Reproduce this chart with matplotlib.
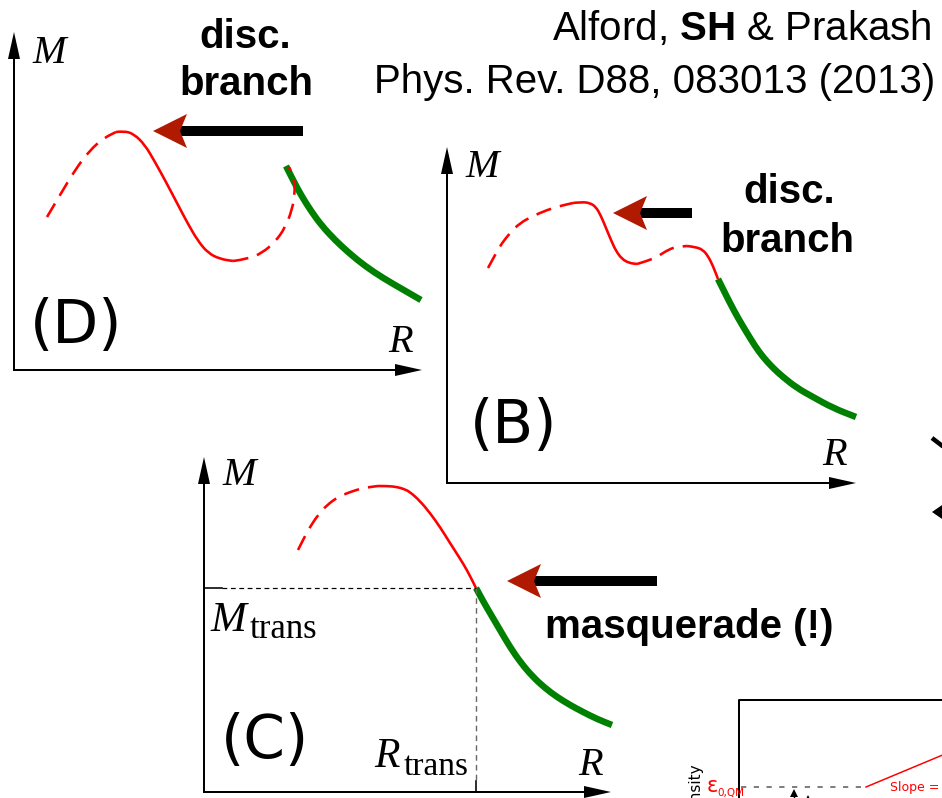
import numpy as np
import matplotlib.pyplot as plt
from matplotlib.patches import Polygon, PathPatch
from matplotlib.path import Path

plt.rcParams['mathtext.fontset'] = 'custom'
plt.rcParams['mathtext.rm'] = 'Liberation Sans'
plt.rcParams['mathtext.bf'] = 'Liberation Sans:bold'

# ---- curve points (canvas pixels, y downwards) ----
D_dash1 = [(47, 217), (60, 195), (75, 170), (90, 150), (104, 138), (116, 132)]
D_solid = [(116, 132), (124, 131), (134, 134), (145, 145), (155, 162), (166, 182), (177, 203),
           (188, 224), (198, 241), (208, 253), (220, 259), (233, 261)]
D_dash2 = [(233, 261), (248, 259), (262, 253), (275, 242), (285, 228), (292, 210), (295, 193),
           (294, 178), (289, 167)]
D_green = [(286, 166), (293, 180), (301, 195), (311, 211), (322, 226), (335, 240), (349, 253),
           (365, 266), (383, 278), (402, 289), (421, 300)]

B_dash1 = [(488, 268), (495, 255), (502, 243), (510, 233), (520, 223), (533, 216), (547, 210),
           (560, 206), (573, 203)]
B_solid1 = [(573, 203), (582, 202), (590, 203), (596, 207), (601, 216), (606, 228), (611, 240),
            (616, 251), (622, 259), (629, 263), (637, 264)]
B_dash2 = [(637, 264), (647, 261), (657, 257), (666, 251), (675, 247), (687, 246)]
B_solid2 = [(687, 246), (696, 247), (703, 250), (708, 256), (713, 266), (718, 279)]
B_green = [(718, 279), (724, 291), (730, 303), (738, 318), (747, 333), (755, 346), (763, 357),
           (773, 368), (783, 377), (797, 388), (813, 397), (833, 408), (856, 417)]

C_dash = [(298, 550), (304, 538), (310, 527), (318, 515), (327, 505), (338, 497), (350, 492),
          (363, 488), (378, 486)]
C_solid = [(378, 486), (388, 486), (397, 487), (404, 489), (410, 492), (420, 501), (430, 513),
           (440, 527), (450, 543), (459, 557), (467, 570), (476, 588)]
C_green = [(476, 588), (483, 601), (490, 613), (500, 630), (510, 647), (521, 663), (533, 677),
           (545, 688), (557, 697), (570, 705), (583, 712), (597, 719), (612, 725)]

M_trans = 588
R_trans = 476

RED = '#ff0000'
GREEN = '#008000'
DARKRED = '#b01a00'


def pt(v):
    return v * 0.72


fig = plt.figure(figsize=(9.42, 7.98), dpi=100)
ax = fig.add_axes([0, 0, 1, 1])
ax.set_xlim(0, 942)
ax.set_ylim(798, 0)
ax.axis('off')


def curve(pts, color, lw, dashed=False):
    # quadratic bezier through the midpoints, points act as controls
    a = np.array(pts, dtype=float)
    verts = [a[0]]
    codes = [Path.MOVETO]
    for i in range(1, len(a) - 1):
        verts += [a[i], (a[i] + a[i + 1]) / 2]
        codes += [Path.CURVE3, Path.CURVE3]
    verts.append(a[-1])
    codes.append(Path.LINETO)
    ls = (0, (6, 3.5)) if dashed else '-'
    ax.add_patch(PathPatch(Path(verts, codes), fill=False, edgecolor=color, lw=pt(lw),
                           ls=ls, capstyle='butt', joinstyle='round'))


def axis_arrow(x0, y0, x1, y1):
    d = np.array([x1 - x0, y1 - y0], dtype=float)
    u = d / np.hypot(*d)
    n = np.array([-u[1], u[0]])
    tip = np.array([x1, y1], dtype=float)
    base = tip - 27 * u
    ax.plot([x0, base[0]], [y0, base[1]], color='black', lw=pt(2), solid_capstyle='butt')
    ax.add_patch(Polygon([tip, base + 6 * n, base - 6 * n], closed=True,
                         color='black', lw=0))


def big_arrow(tip_x, y, tail_x):
    ax.plot([tip_x + 25, tail_x], [y, y], color='black', lw=pt(10), solid_capstyle='butt')
    base = tip_x + 34
    ax.add_patch(Polygon([(tip_x, y), (base, y - 17), (base - 7, y), (base, y + 17)],
                         closed=True, color=DARKRED, lw=0, zorder=3))


bold = dict(family='Liberation Sans', fontweight='bold', fontsize=29, color='black')
serif_it = dict(family='Liberation Serif', style='italic', fontsize=29)
label_font = dict(family='DejaVu Sans', fontsize=43)

# ---- panel (D) ----
axis_arrow(14, 371, 14, 32)
axis_arrow(13, 370, 422, 370)
curve(D_dash1, RED, 2.6, dashed=True)
curve(D_solid, RED, 2.6)
curve(D_green, GREEN, 6.5)
curve(D_dash2, RED, 2.6, dashed=True)
big_arrow(153, 131, 303)
ax.text(32, 63, 'M', va='baseline', ha='left', **serif_it)
ax.text(388, 352, 'R', va='baseline', ha='left', **serif_it)
ax.text(245, 48, 'disc.', ha='center', va='baseline', **bold)
ax.text(246, 95, 'branch', ha='center', va='baseline', **bold)
ax.text(76, 343, '(D)', ha='center', va='baseline', **label_font)

# ---- panel (B) ----
axis_arrow(447, 484, 447, 147)
axis_arrow(446, 483, 856, 483)
curve(B_dash1, RED, 2.6, dashed=True)
curve(B_solid1, RED, 2.6)
curve(B_dash2, RED, 2.6, dashed=True)
curve(B_solid2, RED, 2.6)
curve(B_green, GREEN, 6.5)
big_arrow(613, 213, 692)
ax.text(465, 177, 'M', va='baseline', ha='left', **serif_it)
ax.text(822, 465, 'R', va='baseline', ha='left', **serif_it)
ax.text(789, 203, 'disc.', ha='center', va='baseline', **bold)
ax.text(787, 252, 'branch', ha='center', va='baseline', **bold)
ax.text(514, 443, '(B)', ha='center', va='baseline', **label_font)

# ---- panel (C) ----
axis_arrow(204, 793, 204, 457)
axis_arrow(203, 792, 611, 792)
ax.plot([204, 222], [M_trans, M_trans], color='black', lw=pt(1.6))
ax.plot([222, R_trans], [M_trans, M_trans], color='black', lw=pt(1.2), ls=(0, (4, 3)))
ax.plot([R_trans, R_trans], [M_trans, 781], color='#666666', lw=pt(1.4), ls=(0, (4, 3)))
ax.plot([R_trans, R_trans], [781, 792], color='black', lw=pt(1.6))
curve(C_dash, RED, 2.6, dashed=True)
curve(C_solid, RED, 2.6)
curve(C_green, GREEN, 6.5)
big_arrow(507, 581, 657)
ax.text(222, 485, 'M', va='baseline', ha='left', **serif_it)
ax.text(578, 775, 'R', va='baseline', ha='left', **serif_it)
ax.text(211, 631, 'M', va='baseline', ha='left', family='Liberation Serif', style='italic',
        fontsize=31)
ax.text(250, 638, 'trans', va='baseline', ha='left', family='Liberation Serif', fontsize=25)
ax.text(374, 767, 'R', va='baseline', ha='left', family='Liberation Serif', style='italic',
        fontsize=30)
ax.text(404, 775, 'trans', va='baseline', ha='left', family='Liberation Serif', fontsize=24)
ax.text(265, 758, '(C)', ha='center', va='baseline', **label_font)
ax.text(545, 638, 'masquerade (!)', ha='left', va='baseline', **bold)

# ---- reference line ----
ax.text(932, 40, r'Alford, $\mathbf{SH}$ & Prakash', ha='right', va='baseline',
        family='Liberation Sans', fontsize=29)
ax.text(935, 93, 'Phys. Rev. D88, 083013 (2013)', ha='right', va='baseline',
        family='Liberation Sans', fontsize=29)

# ---- partial EoS panel, bottom right ----
ax.plot([739, 739, 950], [810, 700, 700], color='black', lw=pt(2))
ax.text(697, 764, 'Energy density', rotation=90, ha='center', va='top',
        family='DejaVu Sans', fontsize=11)
ax.text(707, 792, 'ε', ha='left', va='baseline', color=RED, family='DejaVu Sans', fontsize=15)
ax.text(717, 796, '0,QM', ha='left', va='baseline', color=RED, family='DejaVu Sans', fontsize=7.5)
ax.plot([741, 866], [787, 787], color='#555555', lw=pt(1.5), ls=(0, (3.5, 5)))
ax.plot([866, 945], [787, 754], color=RED, lw=pt(1.5))
ax.text(890, 791, 'Slope =', ha='left', va='baseline', color=RED,
        family='DejaVu Sans', fontsize=9)
for x, y in [(794, 789), (808, 795)]:
    ax.plot([x, x], [y + 5, 805], color='black', lw=pt(1.4))
    ax.add_patch(Polygon([(x, y), (x - 4, y + 8), (x + 4, y + 8)], closed=True,
                         color='black', lw=0))

# ---- arrow pieces at the right edge ----
ax.plot([932, 945], [438, 448], color='black', lw=pt(4.5), solid_capstyle='butt')
ax.add_patch(Polygon([(932, 512), (945, 503), (945, 521)], closed=True, color='black', lw=0))

fig.savefig('out.png', dpi=100)
